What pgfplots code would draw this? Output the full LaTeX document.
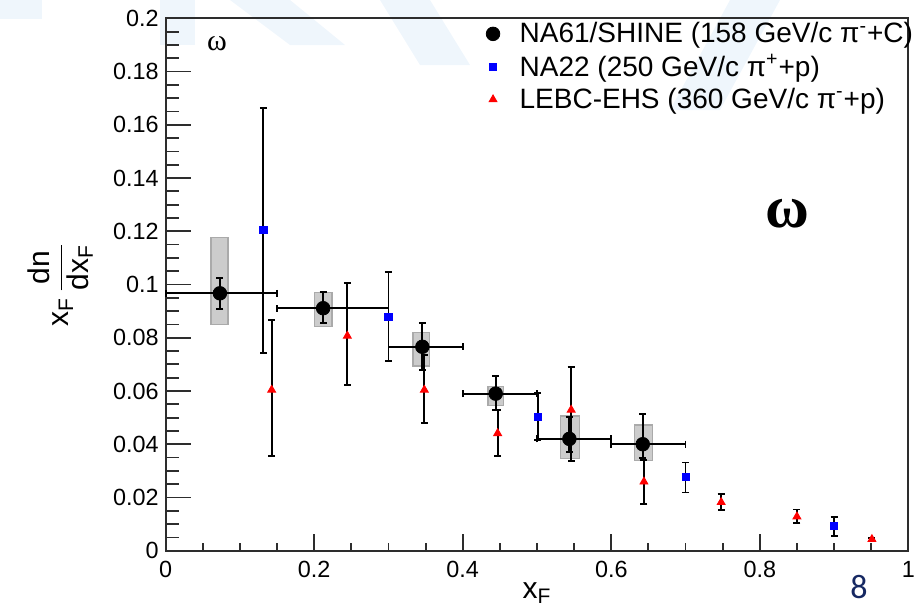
\documentclass[border=0pt]{standalone}
\usepackage{pgfplots}
\usepackage{pgfplotstable}
\pgfplotsset{compat=1.18}
\usepackage{fontspec}
\setmainfont{Liberation Sans}
\newfontfamily\greekserif{Liberation Serif}
\newfontfamily\slidefont{Carlito}

\definecolor{sysfill}{RGB}{204,204,204}
\definecolor{sysedge}{RGB}{170,170,170}
\definecolor{pagenum}{RGB}{22,40,98}
\definecolor{wmblue}{RGB}{239,246,252}
\definecolor{framegrey}{RGB}{45,45,45}

% NA61/SHINE: stat. errors, x error = bin edges
\pgfplotstableread{
x       y       xm      xp      eym     eyp
0.0730  0.0967  0.0730  0.0770  0.0060  0.0056
0.2120  0.0911  0.0620  0.0880  0.0057  0.0060
0.3456  0.0766  0.0456  0.0544  0.0087  0.0088
0.4444  0.0590  0.0444  0.0556  0.0061  0.0065
0.5436  0.0420  0.0436  0.0564  0.0048  0.0083
0.6424  0.0400  0.0424  0.0576  0.0051  0.0113
}\nasixtyone

% NA22
\pgfplotstableread{
x       y       eym     eyp
0.1315  0.1205  0.0461  0.0457
0.3000  0.0879  0.0166  0.0169
0.5010  0.0503  0.0087  0.0088
0.7000  0.0276  0.0057  0.0055
0.9000  0.0093  0.0037  0.0035
}\natwentytwo

% LEBC-EHS
\pgfplotstableread{
x       y       eym     eyp
0.1427  0.0604  0.0248  0.0263
0.2446  0.0807  0.0185  0.0200
0.3483  0.0604  0.0123  0.0131
0.4470  0.0441  0.0084  0.0088
0.5460  0.0529  0.0192  0.0160
0.6440  0.0259  0.0084  0.0081
0.7480  0.0182  0.0029  0.0030
0.8500  0.0128  0.0025  0.0027
0.9510  0.0043  0.0006  0.0006
}\lebc

\pgfplotsset{
  frame geometry/.style={
    at={(0pt,0pt)}, anchor=south west,
    width=371.3pt, height=266.2pt, scale only axis,
    xmin=0, xmax=1, ymin=0, ymax=0.2,
    clip=false,
    tick align=inside,
    every tick/.style={framegrey, line width=0.9pt},
    tick label style={font=\fontsize{11.7}{13}\selectfont,
      /pgf/number format/assume math mode=true},
  },
  errstyle/.style={
    error bars/y dir=both, error bars/y explicit,
    error bars/error bar style={black, line width=0.9pt},
    error bars/error mark options={rotate=90, black, line width=0.9pt, mark size=1.75pt},
  },
}

\begin{document}
\begin{tikzpicture}
\useasboundingbox (-82.85pt,-28.15pt) rectangle (377.15pt,275.35pt);

% faint logo in the slide background
\fill[wmblue] (-2.85pt,275.35pt) rectangle (14.65pt,253pt);
\fill[wmblue] (32.15pt,275.35pt) -- (62.15pt,275.35pt) -- (89.65pt,252.85pt) -- (62.15pt,252.85pt) -- cycle;
\fill[wmblue] (107.15pt,275.35pt) -- (132.15pt,275.35pt) -- (152.15pt,242.85pt) -- (127.15pt,242.85pt) -- cycle;
\fill[wmblue] (282.15pt,275.35pt) -- (307.15pt,275.35pt) -- (277.15pt,220.35pt) -- (252.15pt,220.35pt) -- cycle;
\fill[wmblue] (-82.85pt,275.35pt) rectangle (-62pt,266pt);

% x-axis ticks and labels
\begin{axis}[frame geometry,
  axis line style={draw=none},
  ytick=\empty, xtick pos=bottom,
  xtick={0,0.2,0.4,0.6,0.8,1},
  minor x tick num=3,
  major tick length=8.5pt, minor tick length=4pt,
  xticklabel style={yshift=-1.6pt},
]
\end{axis}

\begin{axis}[frame geometry,
  axis line style={line width=1pt, draw=framegrey},
  xtick=\empty, ytick pos=left,
  ytick={0,0.02,0.04,0.06,0.08,0.1,0.12,0.14,0.16,0.18,0.2},
  minor y tick num=3,
  major tick length=12.5pt, minor tick length=6.5pt,
  scaled y ticks=false,
  yticklabel style={/pgf/number format/fixed, /pgf/number format/precision=2},
  xlabel={x\textsubscript{F}},
  xlabel style={font=\fontsize{15}{17}\selectfont, at={(axis description cs:0.5,0)}, anchor=base, yshift=-24pt},
  ylabel={x\textsubscript{F}\,$\displaystyle\frac{\mbox{dn}}{\mbox{dx\textsubscript{F}}}$},
  ylabel style={font=\fontsize{15}{17}\selectfont, at={(axis description cs:-0.1423,0.5)}, anchor=center},
  legend cell align=left,
  legend image code/.code={\draw[#1] plot coordinates {(0pt,0pt)};},
  legend style={draw=none, fill=none, inner sep=0pt,
    at={(0.4311,0.9934)}, anchor=north west,
    font=\fontsize{14}{16}\selectfont,
    nodes={inner sep=0pt},
    column sep=9.9pt, row sep=4.4pt},
]
% systematic uncertainty boxes
\addplot[forget plot, fill=sysfill, draw=sysedge, line width=0.6pt] coordinates {(0.061,0.0850) (0.084,0.0850) (0.084,0.1177) (0.061,0.1177)} --cycle;
\addplot[forget plot, fill=sysfill, draw=sysedge, line width=0.6pt] coordinates {(0.200,0.0842) (0.224,0.0842) (0.224,0.0969) (0.200,0.0969)} --cycle;
\addplot[forget plot, fill=sysfill, draw=sysedge, line width=0.6pt] coordinates {(0.333,0.0694) (0.355,0.0694) (0.355,0.0820) (0.333,0.0820)} --cycle;
\addplot[forget plot, fill=sysfill, draw=sysedge, line width=0.6pt] coordinates {(0.434,0.0544) (0.455,0.0544) (0.455,0.0616) (0.434,0.0616)} --cycle;
\addplot[forget plot, fill=sysfill, draw=sysedge, line width=0.6pt] coordinates {(0.532,0.0347) (0.557,0.0347) (0.557,0.0506) (0.532,0.0506)} --cycle;
\addplot[forget plot, fill=sysfill, draw=sysedge, line width=0.6pt] coordinates {(0.631,0.0340) (0.655,0.0340) (0.655,0.0472) (0.631,0.0472)} --cycle;

\addplot[only marks, mark=*, mark size=3.4pt, black,
  errstyle, error bars/x dir=both, error bars/x explicit]
  table[x=x, y=y, x error minus=xm, x error plus=xp, y error minus=eym, y error plus=eyp] {\nasixtyone};
\addlegendentry{NA61/SHINE (158 GeV/c π\textsuperscript{-}+C)}

\addplot[only marks, mark=square*, mark size=1.8pt, blue, errstyle]
  table[x=x, y=y, y error minus=eym, y error plus=eyp] {\natwentytwo};
\addlegendentry{NA22 (250 GeV/c π\textsuperscript{+}+p)}

\addplot[only marks, mark=triangle*, mark size=2.3pt, red, errstyle]
  table[x=x, y=y, y error minus=eym, y error plus=eyp] {\lebc};
\addlegendentry{LEBC-EHS (360 GeV/c π\textsuperscript{-}+p)}

\node[font=\greekserif\fontsize{15}{17}\selectfont] at (axis cs:0.069,0.1905) {ω};
\end{axis}

\node[font=\greekserif\bfseries\fontsize{30}{32}\selectfont] at (310.65pt,168.35pt) {ω};
\node[font=\slidefont\fontsize{17}{19}\selectfont, text=pagenum] at (346.65pt,-18.15pt) {8};
\end{tikzpicture}
\end{document}
